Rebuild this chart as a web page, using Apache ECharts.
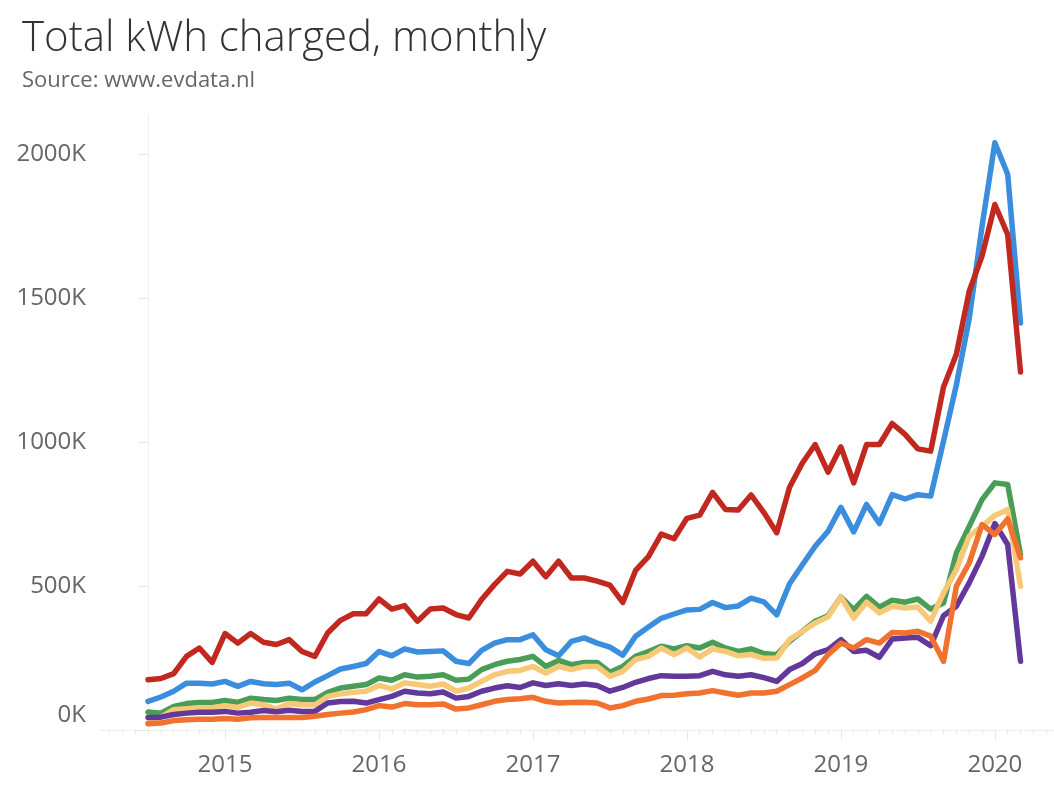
<!DOCTYPE html>
<html>
<head>
<meta charset="utf-8">
<script src="https://cdn.jsdelivr.net/npm/echarts@6/dist/echarts.min.js"></script>
<style>
  html, body { margin: 0; padding: 0; background: #ffffff; }
  #chart { width: 1054px; height: 798px; }
</style>
</head>
<body>
<div id="chart"></div>
<script>
// Months (Jul 2014 .. Mar 2020)
const months = [
  '2014-07','2014-08','2014-09','2014-10','2014-11','2014-12',
  '2015-01','2015-02','2015-03','2015-04','2015-05','2015-06','2015-07','2015-08','2015-09','2015-10','2015-11','2015-12',
  '2016-01','2016-02','2016-03','2016-04','2016-05','2016-06','2016-07','2016-08','2016-09','2016-10','2016-11','2016-12',
  '2017-01','2017-02','2017-03','2017-04','2017-05','2017-06','2017-07','2017-08','2017-09','2017-10','2017-11','2017-12',
  '2018-01','2018-02','2018-03','2018-04','2018-05','2018-06','2018-07','2018-08','2018-09','2018-10','2018-11','2018-12',
  '2019-01','2019-02','2019-03','2019-04','2019-05','2019-06','2019-07','2019-08','2019-09','2019-10','2019-11','2019-12',
  '2020-01','2020-02','2020-03'
];

// Values in thousands of kWh
const seriesBlue = [102,117,137,165,165,162,171,154,171,163,160,165,142,169,191,214,223,233,275,260,284,273,275,277,241,233,279,304,316,316,333,281,260,310,322,304,290,262,328,360,390,405,419,421,445,427,433,460,447,402,510,576,640,692,775,690,785,719,819,804,819,814,1005,1200,1430,1750,2040,1931,1415];
const seriesRed = [177,181,198,258,287,237,337,304,337,307,299,316,275,258,339,383,406,406,457,422,434,380,422,426,403,391,455,507,553,544,588,534,588,530,530,519,505,445,556,604,682,666,737,748,827,768,766,818,757,687,845,929,993,897,985,860,993,993,1066,1028,978,970,1193,1306,1525,1647,1826,1722,1245];
const seriesGreen = [65,61,84,94,98,98,105,98,113,108,105,113,108,108,133,148,154,160,183,175,194,186,189,194,175,179,212,229,241,247,258,223,244,229,237,237,203,223,258,275,293,284,295,287,307,287,275,284,268,264,310,345,380,399,464,420,466,429,453,446,457,422,443,617,709,802,860,854,611];
const seriesYellow = [27,47,73,76,79,80,87,81,96,90,76,94,90,89,119,128,133,137,157,145,166,160,154,162,137,148,171,194,206,209,223,200,223,212,223,223,189,206,247,258,287,264,287,256,284,275,260,264,251,252,316,345,374,395,464,391,446,409,432,426,429,380,478,559,675,709,747,767,501];
const seriesPurple = [46,47,56,61,64,64,67,61,64,70,66,71,67,67,96,101,102,96,108,119,137,131,128,134,113,119,137,148,156,150,166,157,163,157,162,157,137,150,168,181,191,189,189,191,206,194,189,194,184,171,212,233,267,281,316,275,279,255,318,322,324,295,399,432,513,605,719,646,241];
const seriesOrange = [24,27,35,38,40,40,42,40,45,46,46,46,46,50,56,61,65,73,87,82,94,90,90,93,75,79,90,102,108,111,116,102,96,98,99,96,79,87,102,110,122,123,128,131,139,131,123,131,131,137,160,183,209,264,304,287,316,304,341,339,345,328,241,501,582,715,681,735,600];

// Tick labels
const yearLabels = ['2015','2016','2017','2018','2019','2020'];
const yTickValues = [0, 500, 1000, 1500, 2000];

const yearPos = yearLabels.map(y => months.indexOf(y + '-01'));
const xMin = -3.743, xMax = 70.61;
const monthTicks = [];
for (let i = Math.ceil(xMin); i <= Math.floor(xMax); i++) monthTicks.push(i);

function toPairs(arr) { return arr.map((v, i) => [i, v]); }

const FONT = '"Open Sans", "Noto Sans", sans-serif';
const lineDefs = [
  { name: 'Blue',   data: seriesBlue,   color: '#3b8ddd' },
  { name: 'Green',  data: seriesGreen,  color: '#4a9d57' },
  { name: 'Yellow', data: seriesYellow, color: '#f7c876' },
  { name: 'Purple', data: seriesPurple, color: '#62389a' },
  { name: 'Orange', data: seriesOrange, color: '#f0722e' },
  { name: 'Red',    data: seriesRed,    color: '#c1281f' }
];

const chart = echarts.init(document.getElementById('chart'), null, { renderer: 'canvas' });
chart.setOption({
  animation: false,
  backgroundColor: '#ffffff',
  title: {
    text: 'Total kWh charged, monthly',
    subtext: 'Source: www.evdata.nl',
    left: 17,
    top: 13,
    itemGap: 10,
    textStyle: { fontFamily: FONT, fontSize: 42, fontWeight: 300, color: '#333333' },
    subtextStyle: { fontFamily: FONT, fontSize: 22, color: '#666666' }
  },
  grid: { left: 100, right: 0, top: 114, bottom: 67.3, containLabel: false },
  xAxis: [
    {
      type: 'value', min: xMin, max: xMax, position: 'bottom',
      axisLine: { show: true, onZero: false, lineStyle: { color: '#ececec', width: 1 } },
      axisTick: { show: true, customValues: yearPos, length: 9, lineStyle: { color: '#e4e4e4', width: 1 } },
      axisLabel: {
        customValues: yearPos, margin: 22,
        formatter: v => yearLabels[yearPos.indexOf(Math.round(v))] || '',
        fontFamily: FONT, fontSize: 24, color: '#666666'
      },
      splitLine: { show: false }
    },
    {
      type: 'value', min: xMin, max: xMax, position: 'bottom',
      axisLine: { show: false, onZero: false },
      axisTick: { show: true, customValues: monthTicks, length: 4, lineStyle: { color: '#e8e8e8', width: 1 } },
      axisLabel: { show: false },
      splitLine: { show: false }
    }
  ],
  yAxis: {
    type: 'value', min: 0, max: 2140,
    axisLine: { show: true, lineStyle: { color: '#efefef', width: 1 } },
    axisTick: { show: true, customValues: yTickValues, length: 10, lineStyle: { color: '#e6e6e6', width: 1 } },
    axisLabel: {
      customValues: yTickValues, margin: 14,
      formatter: v => v === 0 ? '{z|0K}' : v + 'K',
      fontFamily: FONT, fontSize: 24, color: '#666666',
      rich: { z: { fontFamily: FONT, fontSize: 24, color: '#666666', padding: [0, 0, 32, 0] } }
    },
    splitLine: { show: false }
  },
  series: lineDefs.map((d, k) => ({
    name: d.name,
    type: 'line',
    xAxisIndex: 0,
    data: toPairs(d.data),
    showSymbol: false,
    symbol: 'none',
    z: 2 + k,
    lineStyle: { color: d.color, width: 5.5, cap: 'round', join: 'round' },
    itemStyle: { color: d.color },
    emphasis: { disabled: true }
  }))
});
</script>
</body>
</html>
